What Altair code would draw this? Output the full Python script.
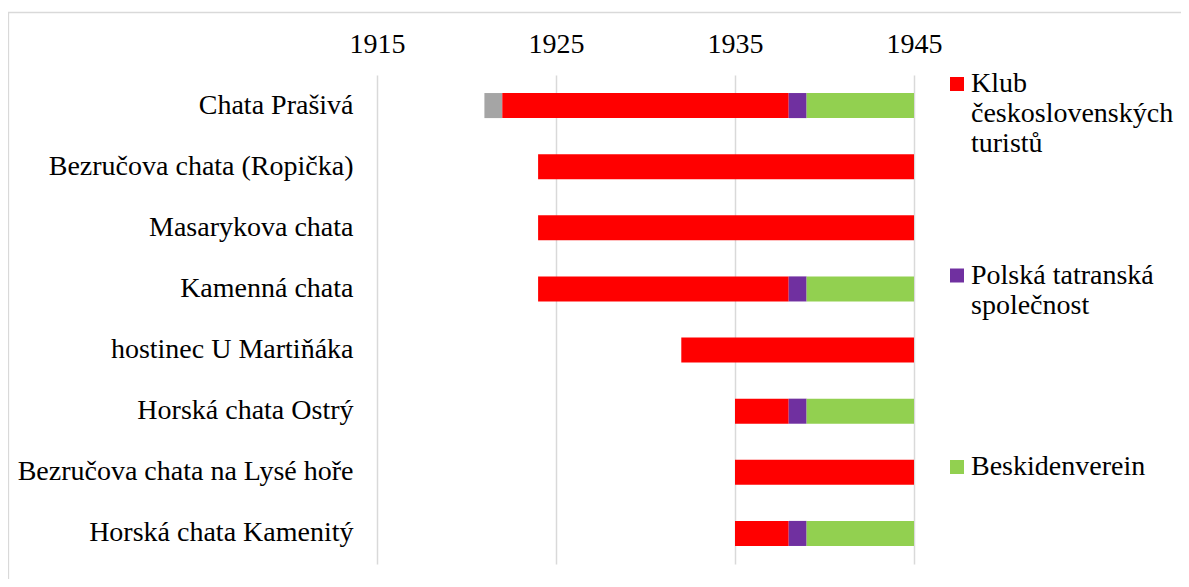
import json
import altair as alt
import pandas as pd

huts = [
    "Chata Prašivá",
    "Bezručova chata (Ropička)",
    "Masarykova chata",
    "Kamenná chata",
    "hostinec U Martiňáka",
    "Horská chata Ostrý",
    "Bezručova chata na Lysé hoře",
    "Horská chata Kamenitý",
]

orgs = [
    "Klub československých turistů",
    "Polská tatranská společnost",
    "Beskidenverein",
    "jiný",
]
org_colors = ["#FF0000", "#7030A0", "#92D050", "#A5A5A5"]
legend_lines = [
    ["Klub", "československých", "turistů"],
    ["Polská tatranská", "společnost"],
    ["Beskidenverein"],
]

seg_hut = [0, 0, 0, 0, 1, 2, 3, 3, 3, 4, 5, 5, 5, 6, 7, 7, 7]
seg_start = [1921, 1922, 1938, 1939, 1924, 1924, 1924, 1938, 1939, 1932, 1935, 1938, 1939, 1935, 1935, 1938, 1939]
seg_end = [1922, 1938, 1939, 1945, 1945, 1945, 1938, 1939, 1945, 1945, 1938, 1939, 1945, 1945, 1938, 1939, 1945]
seg_org = [3, 0, 1, 2, 0, 0, 0, 1, 2, 0, 0, 1, 2, 0, 0, 1, 2]

year_ticks = [1915, 1925, 1935, 1945]

df = pd.DataFrame({
    "hut": [huts[i] for i in seg_hut],
    "start": seg_start,
    "end": seg_end,
    "org": [orgs[i] for i in seg_org],
})

parts = []
for name, lines in zip(orgs[:3], legend_lines):
    padded = lines + [""] * (4 - len(lines))
    parts.append(f"datum.label == {json.dumps(name, ensure_ascii=False)} ? {json.dumps(padded, ensure_ascii=False)}")
label_expr = " : ".join(parts) + " : datum.label"

FONT = "Liberation Serif"

bars = alt.Chart(df).mark_bar().encode(
    x=alt.X(
        "start:Q",
        scale=alt.Scale(domain=[1915, 1945], nice=False, zero=False),
        axis=alt.Axis(
            orient="top", values=year_ticks, format="d", title=None,
            domain=False, ticks=False, tickSize=0, labelPadding=23,
            labelBaseline="alphabetic", labelFont=FONT, labelFontSize=28,
            labelColor="#000000", labelFlush=False,
            grid=True, gridColor="#D9D9D9", gridWidth=1.5,
        ),
    ),
    x2="end:Q",
    y=alt.Y(
        "hut:N", sort=huts,
        scale=alt.Scale(paddingInner=0.59, paddingOuter=0.295),
        axis=alt.Axis(title=None, domain=False, ticks=False, tickSize=0,
                      labelPadding=24, grid=False, labelLimit=500,
                      labelFont=FONT, labelFontSize=28, labelColor="#000000"),
    ),
    color=alt.Color(
        "org:N",
        scale=alt.Scale(domain=orgs, range=org_colors),
        legend=alt.Legend(
            values=orgs[:3], title=None, orient="none", legendX=566, legendY=-5,
            symbolType="square", symbolSize=196, symbolStrokeWidth=0,
            symbolOpacity=1, labelFont=FONT, labelFontSize=28,
            labelColor="#000000", labelLimit=500, labelOffset=0,
            labelBaseline="middle", labelExpr=label_expr,
            rowPadding=73.5, padding=0,
        ),
    ),
)

frame = alt.Chart(pd.DataFrame({"d": [0]})).mark_rect(
    fillOpacity=0, stroke="#D9D9D9", strokeWidth=1.3
).encode(
    x=alt.value(-368.5), x2=alt.value(900),
    y=alt.value(-62.5), y2=alt.value(600),
)

chart = alt.layer(frame, bars).properties(
    width=537, height=489,
    autosize=alt.AutoSizeParams(type="none"),
    padding={"left": 369, "top": 67, "right": 267, "bottom": 15},
).configure(font=FONT).configure_view(strokeWidth=0)

chart.save("out.html", embed_options={"renderer": "svg", "actions": False})
